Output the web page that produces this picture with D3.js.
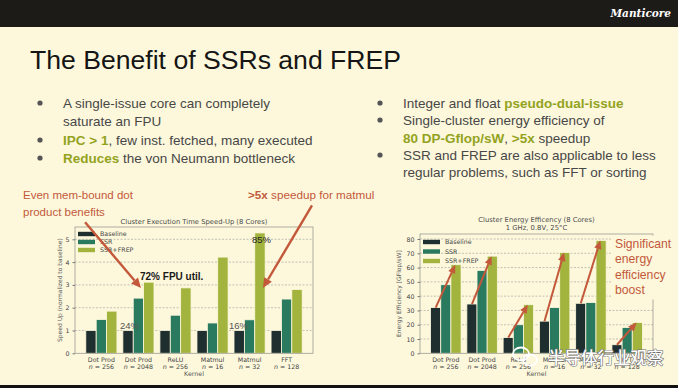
<!DOCTYPE html>
<html><head><meta charset="utf-8">
<script src="https://cdn.jsdelivr.net/npm/d3@7"></script>
<style>
html,body{margin:0;padding:0;background:#fdf8dc;}
svg{display:block;}
</style></head>
<body>
<script>
// ---------- DATA ----------
const kernels = ["Dot Prod", "Dot Prod", "ReLU", "Matmul", "Matmul", "FFT"];
const kernelSizes = ["256", "2048", "256", "16", "32", "128"];
const seriesNames = ["Baseline", "SSR", "SSR+FREP"];

const speedBaseline = [1, 1, 1, 1, 1, 1];
const speedSSR      = [1.48, 2.42, 1.67, 1.33, 1.47, 2.38];
const speedFREP     = [1.85, 3.12, 2.87, 4.22, 5.28, 2.80];
const speedTicks    = [0, 1, 2, 3, 4, 5];

const energyBaseline = [32, 34.5, 11, 22.5, 35, 6];
const energySSR      = [48, 58, 20, 32, 35.5, 18];
const energyFREP     = [62, 68, 34, 70.5, 79, 21.5];
const energyTicks    = [0, 10, 20, 30, 40, 50, 60, 70, 80];

// ---------- STYLE ----------
const W = 678, H = 388;
const BG = "#fdf8dc";
const colors = ["#1f2e2e", "#2a7a60", "#a2b33e"];
const RED = "#c3583b";
const GREEN = "#93a31e";
const TXT = "#474747";
const chartFont = "DejaVu Sans, sans-serif";
const slideFont = "Liberation Sans, Arial, sans-serif";

const svg = d3.select("body").append("svg").attr("width", W).attr("height", H);
svg.append("rect").attr("width", W).attr("height", H).attr("fill", BG);

// header
svg.append("rect").attr("x", 0).attr("y", 0).attr("width", W).attr("height", 27).attr("fill", "#1d1b18");
svg.append("text").attr("x", 671).attr("y", 17).attr("text-anchor", "end")
  .attr("font-family", "DejaVu Serif, serif").attr("font-style", "italic").attr("font-weight", "bold")
  .attr("font-size", 10.5).attr("fill", "#ffffff").text("Manticore");
// bottom strip
svg.append("rect").attr("x", 0).attr("y", 385).attr("width", W).attr("height", 3).attr("fill", "#111");

// title
svg.append("text").attr("x", 30).attr("y", 69).attr("font-family", slideFont)
  .attr("font-size", 26.6).attr("fill", "#151515").text("The Benefit of SSRs and FREP");

// bullets
function bulletLine(x, y, parts) {
  const t = svg.append("text").attr("x", x).attr("y", y).attr("font-family", slideFont)
    .attr("font-size", 13.5).attr("fill", TXT);
  parts.forEach(p => {
    const s = t.append("tspan").text(p[0]);
    if (p[1]) s.attr("fill", GREEN).attr("font-weight", "bold");
  });
}
function dot(x, y) { svg.append("circle").attr("cx", x).attr("cy", y).attr("r", 2.6).attr("fill", "#555"); }

dot(40, 103); bulletLine(63, 108, [["A single-issue core can completely"]]);
bulletLine(63, 126, [["saturate an FPU"]]);
dot(40, 140); bulletLine(63, 145, [["IPC > 1", true], [", few inst. fetched, many executed"]]);
dot(40, 158); bulletLine(63, 163, [["Reduces", true], [" the von Neumann bottleneck"]]);

dot(380, 103); bulletLine(403, 108, [["Integer and float "], ["pseudo-dual-issue", true]]);
dot(380, 120); bulletLine(403, 125, [["Single-cluster energy efficiency of"]]);
bulletLine(403, 143, [["80 DP-Gflop/sW", true], [", "], [">5x", true], [" speedup"]]);
dot(380, 155); bulletLine(403, 160, [["SSR and FREP are also applicable to less"]]);
bulletLine(403, 177, [["regular problems, such as FFT or sorting"]]);

// ---------- CHART HELPER ----------
function drawChart(cfg) {
  const g = svg.append("g");
  const x = d3.scaleLinear().domain([-0.712, 5.712]).range([cfg.x0, cfg.x1]);
  const y = d3.scaleLinear().domain(cfg.yDomain).range([cfg.y1, cfg.y0]);
  const bw = 0.28;

  // grid
  g.selectAll(".grid").data(cfg.ticks.filter(d => d > 0)).join("line")
    .attr("x1", cfg.x0).attr("x2", cfg.x1).attr("y1", d => y(d)).attr("y2", d => y(d))
    .attr("stroke", "#a9a9a0").attr("stroke-width", 0.7).attr("stroke-dasharray", "2,1.5");

  // bars
  const series = [cfg.s0, cfg.s1, cfg.s2];
  series.forEach((vals, j) => {
    g.selectAll(".b" + j).data(vals).join("rect")
      .attr("x", (d, i) => x(i + (j - 1) * bw - bw / 2))
      .attr("width", x(bw) - x(0))
      .attr("y", d => y(d)).attr("height", d => y(0) - y(d))
      .attr("fill", colors[j]).attr("stroke", BG).attr("stroke-width", 0.8);
  });

  // frame
  g.append("rect").attr("x", cfg.x0).attr("y", cfg.y0).attr("width", cfg.x1 - cfg.x0)
    .attr("height", cfg.y1 - cfg.y0).attr("fill", "none").attr("stroke", "#9a9a90").attr("stroke-width", 0.8);

  // y axis
  const ya = g.append("g").attr("transform", `translate(${cfg.x0},0)`)
    .call(d3.axisLeft(y).tickValues(cfg.ticks).tickSize(2.5).tickPadding(3).tickFormat(d3.format("d")));
  ya.select(".domain").remove();
  ya.selectAll("line").attr("stroke", "#777");
  ya.selectAll("text").attr("font-family", chartFont).attr("font-size", 6.3).attr("fill", "#444");

  // x axis
  const xa = g.append("g").attr("transform", `translate(0,${cfg.y1})`)
    .call(d3.axisBottom(x).tickValues(d3.range(kernels.length)).tickSize(0).tickFormat(""));
  xa.select(".domain").remove();
  kernels.forEach((k, i) => {
    const t = g.append("text").attr("x", x(i)).attr("y", cfg.y1 + 8.5).attr("text-anchor", "middle")
      .attr("font-family", chartFont).attr("font-size", 6.3).attr("fill", "#444");
    t.append("tspan").attr("x", x(i)).text(k);
    const t2 = t.append("tspan").attr("x", x(i)).attr("dy", 7);
    t2.append("tspan").attr("font-style", "italic").text("n");
    t2.append("tspan").text(" = " + kernelSizes[i]);
  });
  g.append("text").attr("x", (cfg.x0 + cfg.x1) / 2).attr("y", cfg.y1 + 23).attr("text-anchor", "middle")
    .attr("font-family", chartFont).attr("font-size", 6.3).attr("fill", "#555").text("Kernel");

  // y label
  g.append("text").attr("transform", `translate(${cfg.ylabX},${(cfg.y0 + cfg.y1) / 2}) rotate(-90)`)
    .attr("text-anchor", "middle").attr("font-family", chartFont).attr("font-size", 6)
    .attr("fill", "#555").text(cfg.ylabel);

  // title
  cfg.title.forEach((tl, k) => {
    g.append("text").attr("x", (cfg.x0 + cfg.x1) / 2).attr("y", cfg.titleY + k * 8).attr("text-anchor", "middle")
      .attr("font-family", chartFont).attr("font-size", 6.8).attr("fill", "#4a4a4a").text(tl);
  });

  // legend
  const lg = g.append("g").attr("transform", `translate(${cfg.x0 + 3},${cfg.y0 + cfg.legDy})`);
  seriesNames.forEach((s, j) => {
    lg.append("rect").attr("x", 0).attr("y", j * cfg.legStep - 2.2).attr("width", 17).attr("height", 4.4).attr("fill", colors[j]);
    lg.append("text").attr("x", 22).attr("y", j * cfg.legStep + 2.3).attr("font-family", chartFont)
      .attr("font-size", 6.3).attr("fill", "#444").text(s);
  });
  return { x, y, g };
}

function arrow(x1, y1, x2, y2, w, hl, hw) {
  const a = Math.atan2(y2 - y1, x2 - x1);
  const bx = x2 - hl * Math.cos(a), by = y2 - hl * Math.sin(a);
  svg.append("line").attr("x1", x1).attr("y1", y1).attr("x2", bx).attr("y2", by)
    .attr("stroke", RED).attr("stroke-width", w);
  const px = -Math.sin(a) * hw / 2, py = Math.cos(a) * hw / 2;
  svg.append("path").attr("d", `M${x2},${y2}L${bx + px},${by + py}L${bx - px},${by - py}Z`).attr("fill", RED);
}

// ---------- LEFT CHART ----------
const L = drawChart({
  x0: 75, x1: 313, y0: 227, y1: 353.3, yDomain: [0, 5.54], ticks: speedTicks,
  s0: speedBaseline, s1: speedSSR, s2: speedFREP,
  ylabel: "Speed Up (normalized to baseline)", ylabX: 62,
  title: ["Cluster Execution Time Speed-Up (8 Cores)"], titleY: 224,
  legDy: 7, legStep: 8
});
// value labels
svg.append("text").attr("x", 120).attr("y", 328.5).attr("font-family", slideFont).attr("font-size", 9.5).attr("fill", "#555").text("24%");
svg.append("text").attr("x", 229).attr("y", 328.5).attr("font-family", slideFont).attr("font-size", 9.5).attr("fill", "#555").text("16%");
svg.append("text").attr("x", 252).attr("y", 242.5).attr("font-family", slideFont).attr("font-size", 9.5).attr("fill", "#222").text("85%");
svg.append("text").attr("x", 140).attr("y", 279.5).attr("font-family", slideFont).attr("font-size", 10).attr("font-weight", "bold").attr("fill", "#1a1a1a").text("72% FPU util.");

// annotations
svg.append("text").attr("x", 23).attr("y", 199).attr("font-family", slideFont).attr("font-size", 11.5).attr("fill", RED).text("Even mem-bound dot");
svg.append("text").attr("x", 23).attr("y", 215.5).attr("font-family", slideFont).attr("font-size", 11.5).attr("fill", RED).text("product benefits");
const t5 = svg.append("text").attr("x", 248).attr("y", 199).attr("font-family", slideFont).attr("font-size", 11.7).attr("fill", RED);
t5.append("tspan").attr("font-weight", "bold").text(">5x");
t5.append("tspan").text(" speedup for matmul");
arrow(L.x(-0.44), L.y(5.75), L.x(1.07), L.y(2.86), 2.4, 10, 9);
arrow(L.x(5.685), L.y(6.49), L.x(4.36), L.y(2.86), 2.4, 10, 9);

// ---------- RIGHT CHART ----------
const R = drawChart({
  x0: 420, x1: 653, y0: 234, y1: 353.3, yDomain: [0, 83.5], ticks: energyTicks,
  s0: energyBaseline, s1: energySSR, s2: energyFREP,
  ylabel: "Energy Efficiency [GFlop/sW]", ylabX: 401,
  title: ["Cluster Energy Efficency (8 Cores)", "1 GHz, 0.8V, 25°C"], titleY: 222,
  legDy: 8, legStep: 9.5
});
energyBaseline.forEach((b, i) => {
  arrow(R.x(i - 0.28), R.y(b), R.x(i + 0.26), R.y(energyFREP[i]), 2, 8.5, 7.5);
});

// text box on the right
svg.append("rect").attr("x", 612).attr("y", 235.5).attr("width", 66).attr("height", 64).attr("fill", BG);
["Significant", "energy", "efficiency", "boost"].forEach((s, k) => {
  svg.append("text").attr("x", 615).attr("y", 247.5 + k * 15.5).attr("font-family", slideFont)
    .attr("font-size", 12.2).attr("fill", RED).text(s);
});

// watermark
const wm = svg.append("g");
wm.append("ellipse").attr("cx", 521).attr("cy", 354).attr("rx", 8).attr("ry", 6.5).attr("fill", "none").attr("stroke", "#fff").attr("stroke-width", 1.8);
wm.append("ellipse").attr("cx", 530).attr("cy", 360).attr("rx", 7).attr("ry", 5.5).attr("fill", "none").attr("stroke", "#fff").attr("stroke-width", 1.8);
wm.append("text").attr("x", 548).attr("y", 364).attr("font-family", "Noto Sans CJK SC, sans-serif")
  .attr("font-size", 16.5).attr("font-weight", 500).attr("fill", "#ffffff").attr("stroke", "#6a6a6a").attr("stroke-width", 1.1)
  .attr("paint-order", "stroke").text("半导体行业观察");
</script>
</body></html>
